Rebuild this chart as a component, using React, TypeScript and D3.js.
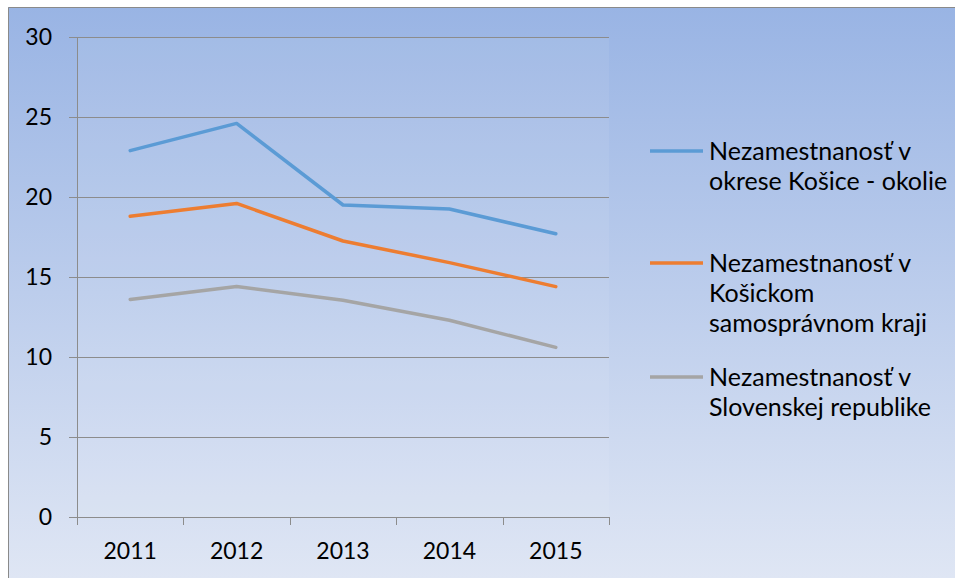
import { useEffect, useRef } from 'react';
import * as d3 from 'd3';

const years = ['2011', '2012', '2013', '2014', '2015'];
const okolie = [22.9, 24.6, 19.5, 19.25, 17.7];
const kraj = [18.8, 19.6, 17.25, 15.9, 14.4];
const slovensko = [13.6, 14.4, 13.55, 12.3, 10.6];
const yTicks = [0, 5, 10, 15, 20, 25, 30];

const series = [
  { lines: ['Nezamestnanosť v', 'okrese Košice - okolie'], values: okolie, color: '#5b9bd5' },
  { lines: ['Nezamestnanosť v', 'Košickom', 'samosprávnom kraji'], values: kraj, color: '#ed7d31' },
  { lines: ['Nezamestnanosť v', 'Slovenskej republike'], values: slovensko, color: '#a5a5a5' },
];

const W = 957;
const H = 578;
const FONT = 'Lato, "Open Sans", sans-serif';

export default function App() {
  const svgRef = useRef<SVGSVGElement>(null);

  useEffect(() => {
    if (!svgRef.current) return;
    const svg = d3.select(svgRef.current);
    svg.selectAll('*').remove();

    const defs = svg.append('defs');
    const grad = defs.append('linearGradient')
      .attr('id', 'bg').attr('x1', 0).attr('y1', 0).attr('x2', 0).attr('y2', 1);
    grad.append('stop').attr('offset', '0%').attr('stop-color', '#99b4e4');
    grad.append('stop').attr('offset', '100%').attr('stop-color', '#dfe6f4');

    svg.append('rect').attr('width', W).attr('height', H).attr('fill', '#fff');
    svg.append('rect')
      .attr('x', 8).attr('y', 7).attr('width', 947).attr('height', H - 7)
      .attr('fill', 'url(#bg)');
    // chart frame: only top and left edges are visible in the crop
    svg.append('path')
      .attr('d', `M8.5,${H}V7.5H955`)
      .attr('fill', 'none').attr('stroke', '#8a8a8a');

    const left = 77, top = 37, right = 609, bottom = 517;

    const x = d3.scaleBand<string>().domain(years).range([left, right]);
    const y = d3.scaleLinear().domain([0, 30]).range([bottom, top]);

    svg.append('rect')
      .attr('x', left).attr('y', top).attr('width', right - left).attr('height', bottom - top)
      .attr('fill', '#fff').attr('opacity', 0.07);

    // gridlines + y tick marks
    svg.append('g').selectAll('line').data(yTicks).join('line')
      .attr('x1', left - 8).attr('x2', right)
      .attr('y1', d => Math.round(y(d)) + 0.5).attr('y2', d => Math.round(y(d)) + 0.5)
      .attr('stroke', '#8c8c8c').attr('stroke-width', 1);

    // y axis line
    svg.append('line')
      .attr('x1', left + 0.5).attr('x2', left + 0.5).attr('y1', top).attr('y2', bottom)
      .attr('stroke', '#8c8c8c');

    // x tick marks at band edges
    const edges = years.map(d => x(d)!).concat([right]);
    svg.append('g').selectAll('line').data(edges).join('line')
      .attr('x1', d => Math.round(d) + 0.5).attr('x2', d => Math.round(d) + 0.5)
      .attr('y1', bottom).attr('y2', bottom + 8)
      .attr('stroke', '#8c8c8c');

    svg.append('g').selectAll('text').data(yTicks).join('text')
      .attr('x', 52).attr('y', d => y(d)).attr('dy', '0.36em')
      .attr('text-anchor', 'end')
      .attr('font-family', FONT).attr('font-size', 23).attr('fill', '#000')
      .text(d => d);

    svg.append('g').selectAll('text').data(years).join('text')
      .attr('x', d => x(d)! + x.bandwidth() / 2).attr('y', 559)
      .attr('text-anchor', 'middle')
      .attr('font-family', FONT).attr('font-size', 23).attr('fill', '#000')
      .text(d => d);

    const line = d3.line<number>()
      .x((_, i) => x(years[i])! + x.bandwidth() / 2)
      .y(d => y(d));

    series.forEach(s => {
      svg.append('path')
        .attr('d', line(s.values))
        .attr('fill', 'none').attr('stroke', s.color)
        .attr('stroke-width', 3.5).attr('stroke-linejoin', 'round').attr('stroke-linecap', 'round');
    });

    const legendY = [151, 263, 377];
    const lineGap = 30;
    series.forEach((s, i) => {
      const g = svg.append('g');
      g.append('line')
        .attr('x1', 650).attr('x2', 703).attr('y1', legendY[i]).attr('y2', legendY[i])
        .attr('stroke', s.color).attr('stroke-width', 3.5);
      g.selectAll('text').data(s.lines).join('text')
        .attr('x', 709).attr('y', (_, j) => legendY[i] + j * lineGap).attr('dy', '0.36em')
        .attr('font-family', FONT).attr('font-size', 25).attr('fill', '#000')
        .text(d => d);
    });
  }, []);

  return (
    <svg
      ref={svgRef}
      width={W}
      height={H}
      style={{ position: 'absolute', left: 0, top: 0, display: 'block' }}
    />
  );
}
